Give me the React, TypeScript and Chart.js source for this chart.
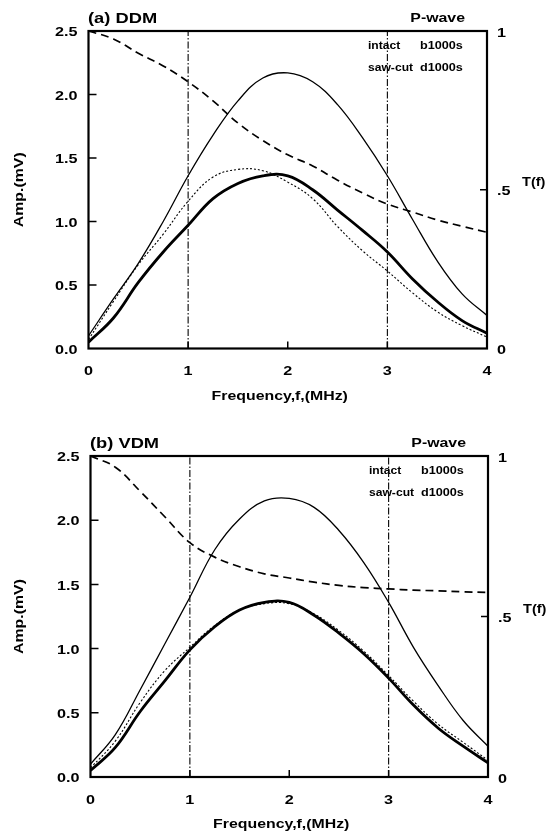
import React, { useEffect, useRef } from 'react';
import { Chart, registerables } from 'chart.js';

Chart.register(...registerables);

// ---------- data ----------
const FREQ = [0, 0.25, 0.5, 0.75, 1, 1.25, 1.5, 1.75, 2, 2.25, 2.5, 2.75, 3, 3.25, 3.5, 3.75, 4];

// (a) DDM
const DDM_INTACT = [0.10, 0.39, 0.67, 1.00, 1.36, 1.68, 1.95, 2.13, 2.17, 2.10, 1.92, 1.66, 1.36, 1.02, 0.69, 0.43, 0.26];
const DDM_SAWCUT = [0.05, 0.24, 0.52, 0.76, 0.97, 1.18, 1.30, 1.36, 1.36, 1.25, 1.09, 0.93, 0.76, 0.55, 0.37, 0.22, 0.12];
const DDM_MODEL = [0.07, 0.37, 0.66, 0.90, 1.16, 1.35, 1.41, 1.40, 1.31, 1.18, 0.96, 0.77, 0.61, 0.44, 0.29, 0.18, 0.09];
const DDM_TF = [1.0, 0.975, 0.93, 0.89, 0.84, 0.78, 0.71, 0.655, 0.61, 0.575, 0.53, 0.49, 0.455, 0.43, 0.405, 0.385, 0.366];

// (b) VDM
const VDM_INTACT = [0.10, 0.33, 0.68, 1.04, 1.40, 1.77, 2.01, 2.15, 2.17, 2.10, 1.92, 1.67, 1.36, 1.01, 0.71, 0.44, 0.24];
const VDM_SAWCUT = [0.05, 0.23, 0.51, 0.75, 0.99, 1.17, 1.30, 1.36, 1.36, 1.26, 1.12, 0.96, 0.77, 0.56, 0.38, 0.24, 0.11];
const VDM_MODEL = [0.07, 0.28, 0.58, 0.83, 1.01, 1.18, 1.30, 1.35, 1.35, 1.27, 1.14, 0.98, 0.79, 0.59, 0.41, 0.27, 0.13];
const VDM_TF = [1.0, 0.965, 0.89, 0.81, 0.73, 0.685, 0.655, 0.633, 0.62, 0.607, 0.597, 0.59, 0.586, 0.582, 0.58, 0.577, 0.575];

const AMP_TICKS = [0, 0.5, 1.0, 1.5, 2.0, 2.5];
const T_TICKS = [0, 0.5, 1];
const T_TICK_LABELS = ['0', '.5', '1'];
const FREQ_TICKS = [0, 1, 2, 3, 4];
const MARKER_FREQS = [1, 3];
const LEGEND_ROWS = [
  ['intact', 'b1000s'],
  ['saw-cut', 'd1000s'],
];

const FONT = '"Liberation Sans", Arial, Helvetica, sans-serif';
const W = 547;
const H = 416;

function txt(ctx: CanvasRenderingContext2D, s: string, x: number, y: number, size: number, align: CanvasTextAlign, sx = 1.2, rotate = false, bold = true) {
  ctx.save();
  ctx.translate(x, y);
  if (rotate) ctx.rotate(-Math.PI / 2);
  ctx.scale(sx, 1);
  ctx.font = `${bold ? 'bold ' : ''}${size}px ${FONT}`;
  ctx.fillStyle = '#000';
  ctx.textAlign = align;
  ctx.textBaseline = 'middle';
  ctx.fillText(s, 0, 0);
  ctx.restore();
}

type Geo = { left: number; right: number; top: number; bottom: number };

function Panel({ title, intact, sawcut, model, tf, geo, top }: { title: string; intact: number[]; sawcut: number[]; model: number[]; tf: number[]; geo: Geo; top: number }) {
  const ref = useRef<HTMLCanvasElement | null>(null);

  useEffect(() => {
    if (!ref.current) return;
    const pts = (arr: number[]) => FREQ.map((f, i) => ({ x: f, y: arr[i] }));
    const curve = { pointRadius: 0, borderColor: '#000', tension: 0.4, fill: false };

    const markerSets = MARKER_FREQS.map((f) => ({
      data: [{ x: f, y: AMP_TICKS[0] }, { x: f, y: AMP_TICKS[AMP_TICKS.length - 1] }],
      borderColor: '#000',
      borderWidth: 1.1,
      borderDash: [7, 2, 1.5, 2],
      pointRadius: 0,
      tension: 0,
      yAxisID: 'y',
    }));

    const decor = {
      id: 'decor',
      afterDatasetsDraw(chart: any) {
        const ctx = chart.ctx as CanvasRenderingContext2D;
        const a = chart.chartArea;
        const sx = chart.scales.x, sy = chart.scales.y, sy2 = chart.scales.y2;
        ctx.save();
        ctx.strokeStyle = '#000';
        ctx.lineWidth = 2.2;
        ctx.strokeRect(a.left, a.top, a.right - a.left, a.bottom - a.top);
        ctx.lineWidth = 1.5;
        ctx.beginPath();
        AMP_TICKS.slice(1, -1).forEach((v) => {
          const y = sy.getPixelForValue(v);
          ctx.moveTo(a.left, y);
          ctx.lineTo(a.left + 8, y);
        });
        T_TICKS.slice(1, -1).forEach((v) => {
          const y = sy2.getPixelForValue(v);
          ctx.moveTo(a.right, y);
          ctx.lineTo(a.right - 7, y);
        });
        FREQ_TICKS.slice(1, -1).forEach((f) => {
          const x = sx.getPixelForValue(f);
          ctx.moveTo(x, a.bottom);
          ctx.lineTo(x, a.bottom - 7);
        });
        ctx.stroke();
        ctx.restore();
      },
      afterDraw(chart: any) {
        const ctx = chart.ctx as CanvasRenderingContext2D;
        const a = chart.chartArea;
        const sx = chart.scales.x, sy = chart.scales.y, sy2 = chart.scales.y2;
        AMP_TICKS.forEach((v) => txt(ctx, v.toFixed(1), a.left - 11, sy.getPixelForValue(v) + 1.5, 13.5, 'right', 1.2));
        T_TICKS.forEach((v, i) => txt(ctx, T_TICK_LABELS[i], a.right + 10, sy2.getPixelForValue(v) + 2, 13.5, 'left', 1.2));
        FREQ_TICKS.forEach((f) => txt(ctx, String(f), sx.getPixelForValue(f), a.bottom + 23, 13.5, 'center', 1.2));
        txt(ctx, 'Frequency,f,(MHz)', (a.left + a.right) / 2 - 8, a.bottom + 47.5, 13, 'center', 1.22);
        txt(ctx, 'Amp.(mV)', 19, (a.top + a.bottom) / 2, 13, 'center', 1.22, true);
        txt(ctx, 'T(f)', a.right + 35, sy2.getPixelForValue(0.5) - 7, 13, 'left', 1.12);
        txt(ctx, title, a.left - 0.5, a.top - 12.5, 15, 'left', 1.22);
        txt(ctx, 'P-wave', a.right - 22, a.top - 12.5, 13, 'right', 1.22);
        LEGEND_ROWS.forEach((row, i) => {
          const y = a.top + 15 + i * 22;
          txt(ctx, row[0], a.right - 119, y, 11, 'left', 1.1);
          txt(ctx, row[1], a.right - 67, y, 11, 'left', 1.15);
        });
      },
    };

    const chart = new Chart(ref.current, {
      type: 'line',
      data: {
        datasets: [
          ...markerSets,
          { ...curve, data: pts(tf), borderWidth: 1.7, borderDash: [8, 5], yAxisID: 'y2' },
          { ...curve, data: pts(model), borderWidth: 1.1, borderDash: [2, 2], yAxisID: 'y' },
          { ...curve, data: pts(intact), borderWidth: 1.3, yAxisID: 'y' },
          { ...curve, data: pts(sawcut), borderWidth: 2.8, yAxisID: 'y' },
        ] as any,
      },
      options: {
        responsive: false,
        maintainAspectRatio: false,
        animation: false,
        devicePixelRatio: 1,
        layout: { padding: { top: geo.top, left: 0, right: 0, bottom: 0 } },
        plugins: { legend: { display: false }, tooltip: { enabled: false }, title: { display: false } },
        scales: {
          x: {
            type: 'linear', min: 0, max: 4,
            ticks: { display: false }, grid: { display: false, drawTicks: false }, border: { display: false },
            afterFit: (s: any) => { s.height = H - geo.bottom; },
          },
          y: {
            type: 'linear', position: 'left', min: 0, max: 2.5,
            ticks: { display: false }, grid: { display: false, drawTicks: false }, border: { display: false },
            afterFit: (s: any) => { s.width = geo.left; },
          },
          y2: {
            type: 'linear', position: 'right', min: 0, max: 1,
            ticks: { display: false }, grid: { display: false, drawTicks: false }, border: { display: false },
            afterFit: (s: any) => { s.width = W - geo.right; },
          },
        } as any,
      },
      plugins: [decor],
    });
    return () => chart.destroy();
  }, [title, intact, sawcut, model, tf, geo]);

  return (
    <canvas
      ref={ref}
      width={W}
      height={H}
      style={{ position: 'absolute', left: 0, top, width: W, height: H, display: 'block' }}
    />
  );
}

const GEO_A: Geo = { left: 88.5, right: 487, top: 31, bottom: 348.5 };
const GEO_B: Geo = { left: 90.5, right: 488, top: 40, bottom: 361 };

export default function App() {
  return (
    <div style={{ position: 'absolute', left: 0, top: 0, width: W, height: 832, background: '#fff', overflow: 'hidden' }}>
      <Panel title="(a) DDM" intact={DDM_INTACT} sawcut={DDM_SAWCUT} model={DDM_MODEL} tf={DDM_TF} geo={GEO_A} top={0} />
      <Panel title="(b) VDM" intact={VDM_INTACT} sawcut={VDM_SAWCUT} model={VDM_MODEL} tf={VDM_TF} geo={GEO_B} top={416} />
    </div>
  );
}
